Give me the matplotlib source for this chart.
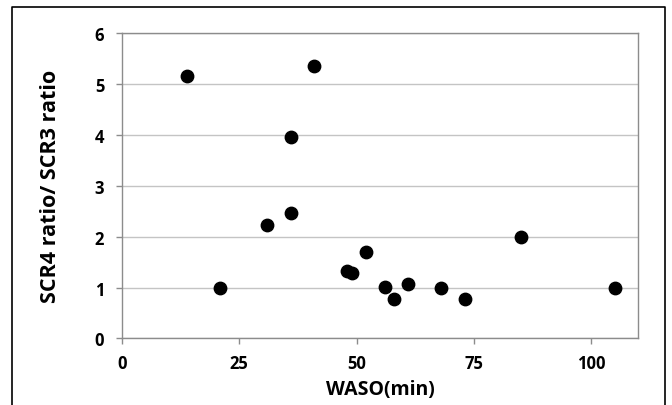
import matplotlib
matplotlib.use("Agg")
import matplotlib.pyplot as plt
from matplotlib.lines import Line2D

plt.rcParams['font.family'] = ['Open Sans', 'DejaVu Sans']

waso = [14, 21, 31, 36, 36, 41, 48, 49, 52, 56, 58, 61, 68, 73, 85, 105]
ratio = [5.15, 1.0, 2.23, 3.95, 2.47, 5.36, 1.33, 1.29, 1.70, 1.01, 0.78, 1.06, 1.0, 0.78, 2.0, 1.0]
x_ticks = [0, 25, 50, 75, 100]
y_ticks = [0, 1, 2, 3, 4, 5, 6]

fig = plt.figure(figsize=(6.72, 4.06), dpi=100)
ax = fig.add_axes([0.181, 0.164, 0.769, 0.752])

ax.scatter(waso, ratio, s=80, color='black', zorder=3)
ax.set_xlim(0, 110)
ax.set_ylim(0, 6)
ax.set_xticks(x_ticks)
ax.set_yticks(y_ticks)
ax.yaxis.grid(True, color='#c4c4c4', linewidth=1)
ax.set_axisbelow(True)
for s in ax.spines.values():
    s.set_color('#8c8c8c')
    s.set_linewidth(1)
ax.tick_params(axis='both', colors='#8c8c8c', length=4.5, width=1, labelcolor='black', labelsize=12)
for lab in ax.get_xticklabels() + ax.get_yticklabels():
    lab.set_fontweight('bold')
ax.tick_params(axis='y', pad=8)
ax.tick_params(axis='x', pad=7)
ax.set_xlabel('WASO(min)', fontsize=14, fontweight='bold', labelpad=5)
ax.set_ylabel('SCR4 ratio/ SCR3 ratio', fontsize=15.5, fontweight='bold', labelpad=24)

# outer frame (left, top, right)
x0, x1 = 12 / 672, 665 / 672
y1 = 1 - 8 / 406
fig.add_artist(Line2D([x0, x0, x1, x1], [0, y1, y1, 0], color='black', linewidth=1.2, transform=fig.transFigure))

fig.savefig('out.png', dpi=100)
